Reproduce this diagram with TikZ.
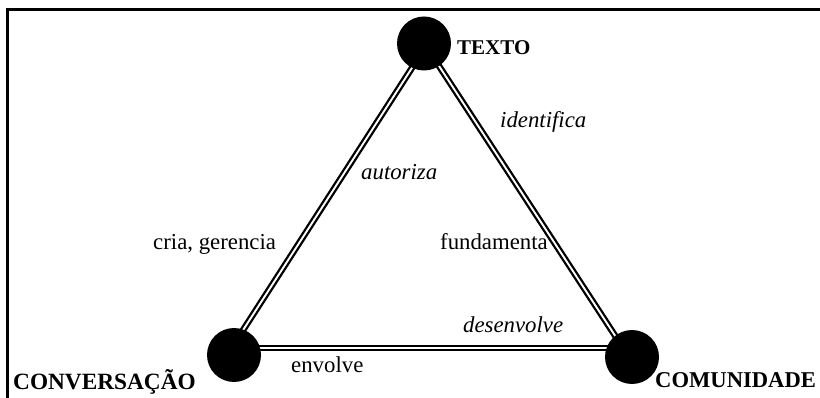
\documentclass[tikz,border=0pt]{standalone}
\usepackage{fontspec}
\setmainfont{Liberation Serif}
\begin{document}
\begin{tikzpicture}[x=1pt,y=-1pt,
  dot/.style={circle,fill=black,minimum size=54pt,inner sep=0},
  rel/.style={double,double distance=1.9pt,line width=2.3pt,draw=black},
  lbl/.style={anchor=base west,inner sep=0,font=\fontsize{22.8}{27}\selectfont},
  blbl/.style={lbl,font=\fontsize{23.3}{27}\selectfont\bfseries},
  ilbl/.style={lbl,font=\fontsize{22.8}{27}\selectfont\itshape}]
\useasboundingbox (0,0) rectangle (820,398);
\draw[line width=3pt] (7.5,398) -- (7.5,9.5) -- (820,9.5);
% endpoints of connectors
\coordinate (tl) at (428,43);
\coordinate (cl) at (227,355);
\coordinate (tr) at (424,43);
\coordinate (mr) at (629,357);
\coordinate (cb) at (234,348);
\coordinate (mb) at (632,348);
\draw[rel] (tl) -- (cl);
\draw[rel] (tr) -- (mr);
\draw[rel] (cb) -- (mb);
\node[dot] (T) at (424,43.5) {};
\node[dot] (C) at (234,355) {};
\node[dot] (M) at (632,357) {};
\node[blbl,font=\fontsize{21}{27}\selectfont\bfseries] (tT) at (457,55) {TEXTO};
\node[blbl] (tC) at (13,389.5) {CONVERSAÇÃO};
\node[blbl,font=\fontsize{22.6}{27}\selectfont\bfseries] (tM) at (655,388) {COMUNIDADE};
\node[ilbl] (l1) at (500,128) {identifica};
\node[ilbl] (l2) at (361,180) {autoriza};
\node[lbl] (l3) at (153,250) {cria, gerencia};
\node[lbl] (l4) at (440,250) {fundamenta};
\node[ilbl] (l5) at (463,333) {desenvolve};
\node[lbl] (l6) at (291,372) {envolve};
\end{tikzpicture}
\end{document}
